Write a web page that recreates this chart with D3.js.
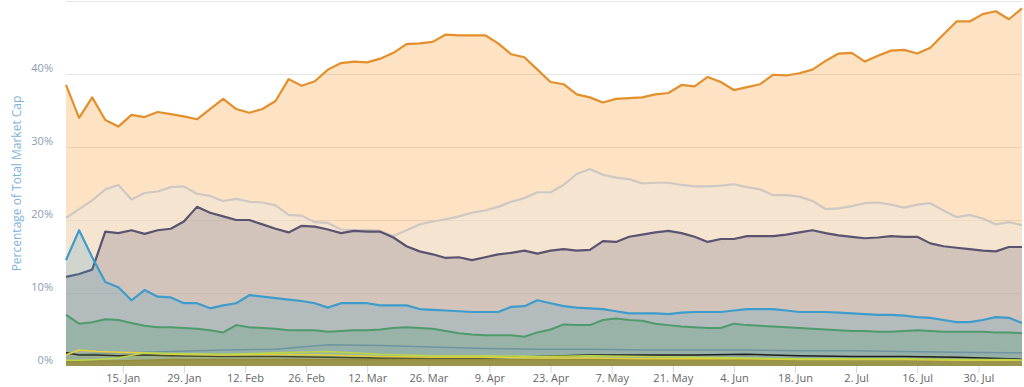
<!DOCTYPE html>
<html lang="en">
<head>
  <meta charset="UTF-8">
  <title>market-cap-dominance</title>
  <script src="https://cdn.jsdelivr.net/npm/d3@7"></script>
  <style>body{margin:0;background:#fff}</style>
</head>
<body>
<svg></svg>
<script>
  const width = 1024, height = 387
  const margin = {top: 1, right: 2, bottom: 21, left: 66}

  // 3-day grid
  const dates = ['01-02','01-05','01-08','01-11','01-14','01-17','01-20','01-23','01-26','01-29',
    '02-01','02-04','02-07','02-10','02-13','02-16','02-19','02-22','02-25','02-28',
    '03-03','03-06','03-09','03-12','03-15','03-18','03-21','03-24','03-27','03-30',
    '04-02','04-05','04-08','04-11','04-14','04-17','04-20','04-23','04-26','04-29',
    '05-02','05-05','05-08','05-11','05-14','05-17','05-20','05-23','05-26','05-29',
    '06-01','06-04','06-07','06-10','06-13','06-16','06-19','06-22','06-25','06-28',
    '07-01','07-04','07-07','07-10','07-13','07-16','07-19','07-22','07-25','07-28',
    '07-31','08-03','08-06','08-09']
  // coarser grid for the small coins at the bottom
  const smallDates = ['01-02','01-05','01-09','01-14','01-20','01-26','02-07','02-19','03-03','03-15',
    '03-27','04-08','04-20','05-02','05-14','05-26','06-07','06-19','07-01','07-13',
    '07-25','08-06','08-09']
  const tickDates = ['01-15','01-29','02-12','02-26','03-12','03-26','04-09','04-23','05-07',
    '05-21','06-04','06-18','07-02','07-16','07-30']
  const yTicks = [0, 10, 20, 30, 40]
  const gridTicks = [10, 20, 30, 40, 50]

  const bitcoin = [38.5,34.0,36.8,33.7,32.8,34.4,34.1,34.8,34.5,34.2,
    33.8,35.2,36.6,35.2,34.7,35.2,36.3,39.3,38.4,39.0,
    40.6,41.5,41.7,41.6,42.1,42.9,44.1,44.2,44.4,45.4,
    45.3,45.3,45.3,44.2,42.7,42.3,40.6,38.9,38.6,37.2,
    36.8,36.1,36.6,36.7,36.8,37.2,37.4,38.5,38.3,39.6,
    38.9,37.8,38.2,38.6,39.9,39.8,40.1,40.6,41.8,42.8,
    42.9,41.7,42.5,43.2,43.3,42.8,43.6,45.4,47.2,47.2,
    48.2,48.6,47.5,49.0]
  const others = [20.3,21.5,22.7,24.2,24.8,22.8,23.7,23.9,24.5,24.6,
    23.6,23.3,22.6,22.9,22.5,22.4,22.0,20.7,20.6,19.7,
    19.6,18.7,18.6,18.6,18.5,17.8,18.6,19.4,19.8,20.1,
    20.5,21.0,21.3,21.8,22.5,23.0,23.8,23.8,24.8,26.3,
    27.0,26.2,25.8,25.6,25.0,25.1,25.1,24.8,24.6,24.6,
    24.7,24.9,24.5,24.2,23.4,23.4,23.2,22.6,21.5,21.6,
    21.9,22.3,22.4,22.1,21.7,22.1,22.3,21.3,20.4,20.7,
    20.2,19.4,19.7,19.3]
  const ethereum = [12.2,12.6,13.2,18.4,18.2,18.6,18.1,18.6,18.8,19.8,
    21.8,21.0,20.5,20.0,20.0,19.4,18.8,18.3,19.2,19.1,
    18.7,18.2,18.5,18.4,18.4,17.6,16.4,15.7,15.3,14.8,
    14.9,14.5,14.9,15.3,15.5,15.8,15.4,15.8,16.0,15.8,
    15.9,17.1,17.0,17.7,18.0,18.3,18.5,18.2,17.7,17.0,
    17.4,17.4,17.8,17.8,17.8,18.0,18.3,18.6,18.2,17.9,
    17.7,17.5,17.6,17.8,17.7,17.7,16.8,16.4,16.2,16.0,
    15.8,15.7,16.3,16.3]
  const ripple = [14.5,18.6,14.9,11.5,10.8,9.0,10.4,9.5,9.4,8.6,
    8.6,7.9,8.3,8.6,9.7,9.5,9.3,9.1,8.9,8.6,
    8.0,8.6,8.6,8.6,8.3,8.3,8.3,7.8,7.7,7.6,
    7.5,7.4,7.4,7.4,8.1,8.2,9.0,8.6,8.2,8.0,
    7.9,7.8,7.5,7.2,7.2,7.2,7.1,7.3,7.4,7.4,
    7.4,7.6,7.8,7.8,7.8,7.6,7.4,7.4,7.4,7.3,
    7.2,7.1,7.0,7.0,6.9,6.7,6.6,6.3,6.0,6.0,
    6.3,6.7,6.6,5.9]
  const bitcoinCash = [7.0,5.8,6.0,6.4,6.3,5.9,5.5,5.3,5.3,5.2,
    5.1,4.9,4.6,5.6,5.3,5.2,5.1,4.9,4.9,4.9,
    4.7,4.8,4.9,4.9,5.0,5.2,5.3,5.2,5.1,4.8,
    4.5,4.3,4.2,4.2,4.2,4.0,4.6,5.0,5.7,5.6,
    5.6,6.3,6.5,6.3,6.2,5.8,5.6,5.4,5.3,5.2,
    5.2,5.8,5.6,5.5,5.4,5.3,5.2,5.1,5.0,4.9,
    4.8,4.8,4.7,4.7,4.8,4.9,4.8,4.7,4.7,4.7,
    4.7,4.6,4.6,4.5]
  const eos = [1.6,1.6,1.7,1.8,1.9,2.0,2.2,2.3,2.9,2.8,2.6,2.4,2.3,2.3,2.2,2.2,2.2,2.1,2.1,2.0,1.9,1.8,1.8]
  const litecoin = [0.6,0.6,0.7,0.7,0.8,0.9,0.9,0.9,0.9,0.9,0.9,0.9,0.9,0.9,0.9,0.9,0.9,0.9,0.9,0.9,0.9,0.9,0.9]
  const stellar = [1.8,1.5,1.5,1.4,1.5,1.4,1.3,1.3,1.2,1.1,1.1,1.1,1.3,1.5,1.5,1.5,1.6,1.4,1.3,1.3,1.2,1.0,0.9]
  const cardano = [1.5,2.2,2.0,1.9,1.8,1.6,1.5,1.6,1.5,1.3,1.2,1.2,1.1,1.1,1.0,1.0,1.0,0.9,0.9,0.9,0.8,0.8,0.8]
  const iota = [0.8,0.8,0.9,1.1,1.8,1.7,1.6,1.8,2.0,1.6,1.4,1.4,1.3,1.4,1.3,1.2,1.1,1.0,1.0,1.0,0.9,0.9,0.8]

  const parse = d3.timeParse('%Y-%m-%d')
  const toDate = s => parse('2018-' + s)

  const series = [
    {values: bitcoin, dates: dates, line: '#e38f2c', fill: '#f7931a', op: 0.26, w: 2.2},
    {values: others, dates: dates, line: '#cfc7c1', fill: '#ece6df', op: 0.45, w: 2.2},
    {values: ethereum, dates: dates, line: '#5b5270', fill: '#5f5575', op: 0.23, w: 2.2},
    {values: ripple, dates: dates, line: '#3d9ccb', fill: '#3d9cc8', op: 0.2, w: 2.2},
    {values: bitcoinCash, dates: dates, line: '#4f9a6d', fill: '#4d9a6e', op: 0.25, w: 2},
    {values: eos, dates: smallDates, line: '#6f94a0', fill: '#7b9ea5', op: 0.15, w: 1.5},
    {values: litecoin, dates: smallDates, line: '#8c7a36', fill: '#8c7a36', op: 0.75, w: 1.5},
    {values: stellar, dates: smallDates, line: '#1e1e1e', fill: '#333', op: 0.05, w: 1.5},
    {values: cardano, dates: smallDates, line: '#e8cf3c', fill: '#e8cf3c', op: 0.1, w: 1.5},
    {values: iota, dates: smallDates, line: '#bcd64a', fill: '#bcd64a', op: 0.15, w: 1.5}
  ]

  const svg = d3.select('svg')
      .attr('width', width)
      .attr('height', height)
      .attr('viewBox', [0, 0, width, height])
      .style('font-family', '"Open Sans", sans-serif')

  const x = d3.scaleTime()
      .domain([toDate('01-02'), toDate('08-09')])
      .range([margin.left, width - margin.right])

  const y = d3.scaleLinear()
      .domain([0, 50])
      .range([height - margin.bottom, margin.top])

  // grid
  svg.append('g')
    .selectAll('line')
    .data(gridTicks)
    .join('line')
      .attr('x1', margin.left)
      .attr('x2', width - margin.right)
      .attr('y1', d => y(d) + 0.5)
      .attr('y2', d => y(d) + 0.5)
      .attr('stroke', '#e6e6e6')

  const area = d3.area()
      .x(d => x(d.date))
      .y0(y(0))
      .y1(d => y(d.v))

  const line = d3.line()
      .x(d => x(d.date))
      .y(d => y(d.v))

  series.forEach(s => {
    const pts = s.values.map((v, i) => ({date: toDate(s.dates[i]), v: v}))
    svg.append('path')
        .attr('fill', s.fill)
        .attr('fill-opacity', s.op)
        .attr('d', area(pts))
    svg.append('path')
        .attr('fill', 'none')
        .attr('stroke', s.line)
        .attr('stroke-width', s.w)
        .attr('stroke-linejoin', 'round')
        .attr('d', line(pts))
  })

  // x axis
  const xAxis = svg.append('g')
      .attr('transform', `translate(0,${height - margin.bottom})`)
      .call(d3.axisBottom(x)
        .tickValues(tickDates.map(toDate))
        .tickFormat(d3.timeFormat('%-d. %b'))
        .tickSize(7)
        .tickPadding(1))
  xAxis.select('.domain').remove()
  xAxis.selectAll('line').attr('stroke', '#ccd6eb')
  xAxis.selectAll('text')
      .attr('fill', '#666')
      .style('font-size', '11px')
      .style('font-family', '"Open Sans", sans-serif')

  // y labels
  svg.append('g')
    .selectAll('text')
    .data(yTicks)
    .join('text')
      .attr('x', 53)
      .attr('y', d => y(d) - 2)
      .attr('text-anchor', 'end')
      .attr('fill', '#8d9db3')
      .style('font-size', '11px')
      .text(d => d + '%')

  svg.append('text')
      .attr('transform', `translate(21,${(margin.top + height - margin.bottom) / 2}) rotate(-90)`)
      .attr('text-anchor', 'middle')
      .attr('fill', '#7fb2da')
      .style('font-size', '12px')
      .text('Percentage of Total Market Cap')
</script>
</body>
</html>
